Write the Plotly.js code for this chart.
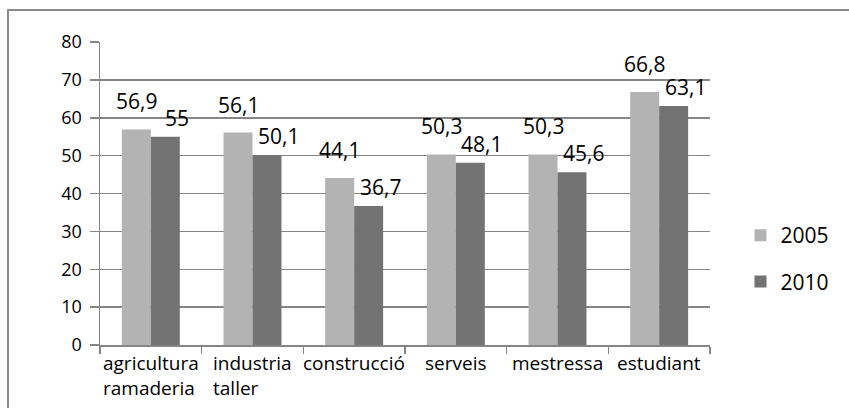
<!DOCTYPE html>
<html>
<head>
<meta charset="utf-8">
<script src="https://cdn.plot.ly/plotly-3.0.1.min.js"></script>
<style>
html,body{margin:0;padding:0;background:#fff;overflow:hidden;}
#frame{position:absolute;left:7px;top:9px;width:900px;height:500px;border:2px solid #8a8a8a;box-sizing:border-box;}
#chart{position:absolute;left:0;top:0;width:849px;height:408px;}
</style>
</head>
<body>
<div id="frame"></div>
<div id="chart"></div>
<script>
var categories = ["agricultura<br>ramaderia", "industria<br>taller", "construcció", "serveis", "mestressa", "estudiant"];
var seriesNames = ["2005", "2010"];
var values2005 = [56.9, 56.1, 44.1, 50.3, 50.3, 66.8];
var values2010 = [55, 50.1, 36.7, 48.1, 45.6, 63.1];
var yTicks = [0, 10, 20, 30, 40, 50, 60, 70, 80];

var FONT = "Open Sans, Noto Sans, DejaVu Sans, sans-serif";
var TXT = '#000';
var colors = ["#b3b3b3", "#737373"];
var fmt = function(v){ return String(v).replace('.', ','); };

var traces = [values2005, values2010].map(function(vals, i){
  return {
    type: 'bar', x: categories, y: vals, name: seriesNames[i],
    marker: {color: colors[i], line: {width: 0}},
    legendgroup: 'g' + i, hoverinfo: 'none'
  };
});

var annotations = [];
// value labels
values2005.forEach(function(v, j){
  annotations.push({x: categories[j], y: v, xref: 'x', yref: 'y', text: fmt(v), showarrow: false,
    xanchor: 'center', yanchor: 'bottom', xshift: -14.5, yshift: 12,
    font: {family: FONT, size: 21, color: TXT}});
});
values2010.forEach(function(v, j){
  annotations.push({x: categories[j], y: v, xref: 'x', yref: 'y', text: fmt(v), showarrow: false,
    xanchor: 'center', yanchor: 'bottom', xshift: 26, yshift: 3,
    font: {family: FONT, size: 21, color: TXT}});
});
// category labels
categories.forEach(function(c){
  annotations.push({x: c, y: 0, xref: 'x', yref: 'y', text: c, showarrow: false,
    xanchor: 'center', yanchor: 'top', yshift: -3, align: 'left',
    font: {family: FONT, size: 19, color: TXT}});
});

var layout = {
  width: 849, height: 408,
  margin: {l: 100, r: 139, t: 42, b: 63},
  paper_bgcolor: 'rgba(0,0,0,0)', plot_bgcolor: 'rgba(0,0,0,0)',
  font: {family: FONT, color: TXT},
  bargap: 0.43, bargroupgap: 0, barmode: 'group',
  showlegend: true,
  legend: {x: 1.05, y: 0.285, xanchor: 'left', yanchor: 'middle',
    font: {family: FONT, size: 21, color: TXT}, tracegroupgap: 16,
    bgcolor: 'rgba(0,0,0,0)'},
  xaxis: {type: 'category', showticklabels: false, tickson: 'boundaries',
    ticks: 'outside', ticklen: 7, tickcolor: '#858585', tickwidth: 1.5,
    showline: true, linecolor: '#858585', linewidth: 1.5, showgrid: false, fixedrange: true},
  yaxis: {range: [0, 80], tickvals: yTicks, ticktext: yTicks.map(String),
    ticks: 'outside', ticklen: 9, tickcolor: '#858585', tickwidth: 1.5,
    showline: true, linecolor: '#858585', linewidth: 1.5,
    showgrid: true, gridcolor: '#858585', gridwidth: 1.5, zeroline: false,
    tickfont: {family: FONT, size: 18, color: TXT}, ticklabelstandoff: 4, fixedrange: true},
  annotations: annotations
};

Plotly.newPlot('chart', traces, layout, {displayModeBar: false, staticPlot: true});
</script>
</body>
</html>
